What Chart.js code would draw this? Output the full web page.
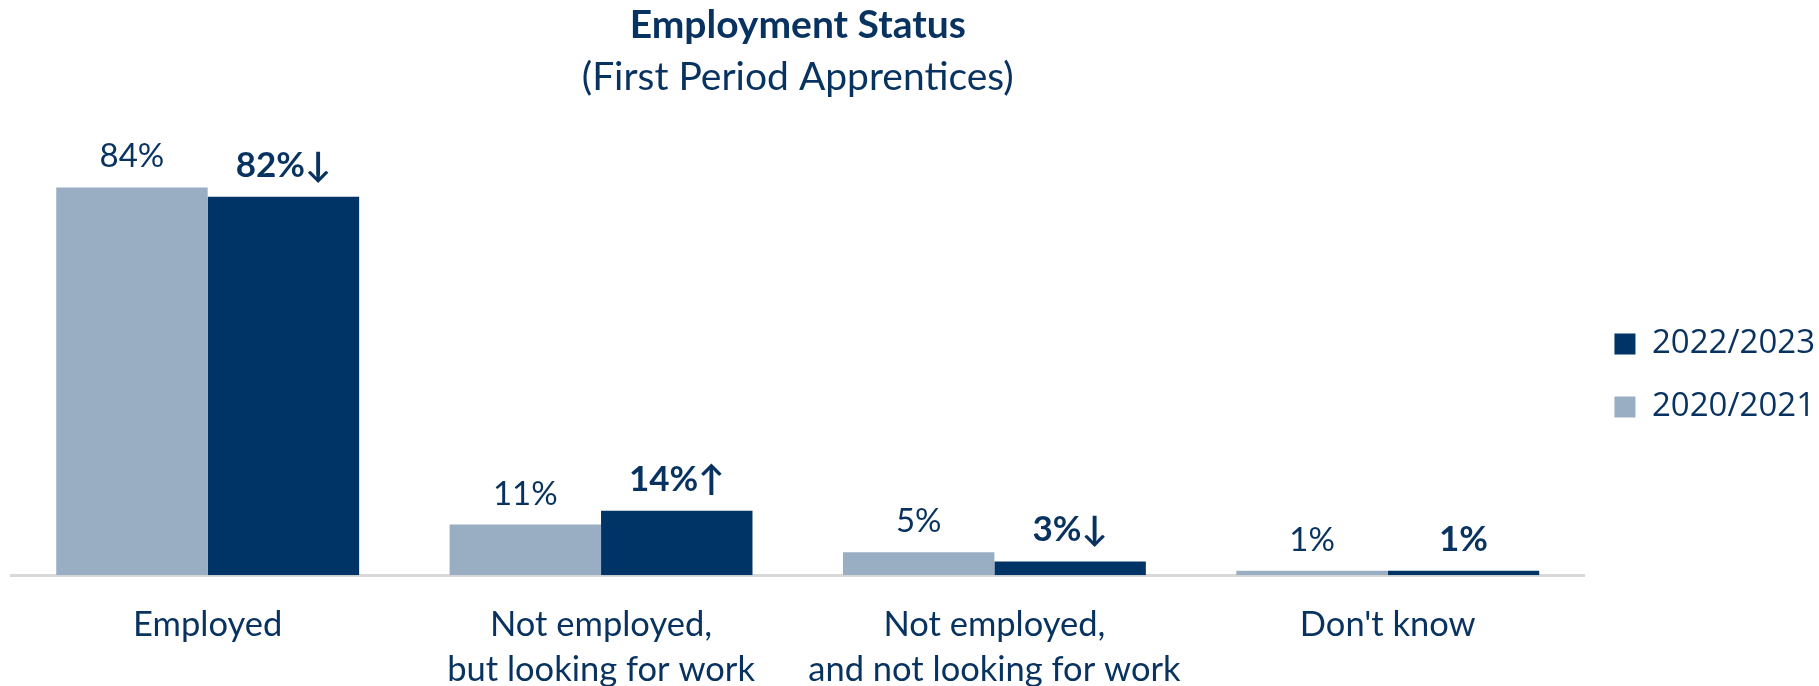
<!DOCTYPE html>
<html><head><meta charset="utf-8">
<script src="https://cdn.jsdelivr.net/npm/chart.js@4/dist/chart.umd.min.js"></script>
<style>html,body{margin:0;padding:0;background:#fff}#wrap{width:1819px;height:686px;position:relative}</style>
</head><body><div id="wrap"><canvas id="c"></canvas></div>
<script>
const categories = ['Employed', ['Not employed,', 'but looking for work'], ['Not employed,', 'and not looking for work'], "Don't know"];
const seriesNames = ['2020/2021', '2022/2023'];
const values2020 = [84, 11, 5, 1];
const values2022 = [82, 14, 3, 1];
const change2022 = ['\u2193', '\u2191', '\u2193', ''];

const TEXT = '#08325f';
const DARK = '#003466';
const LIGHT = '#9aaec3';
const FONT = 'Lato';

const barLabels = {
  id: 'barLabels',
  afterDatasetsDraw(chart) {
    const ctx = chart.ctx;
    chart.data.datasets.forEach((ds, di) => {
      const meta = chart.getDatasetMeta(di);
      meta.data.forEach((bar, i) => {
        let txt = ds.data[i] + '%';
        ctx.save();
        ctx.fillStyle = TEXT;
        ctx.textAlign = 'center';
        ctx.textBaseline = 'alphabetic';
        if (di === 1) { txt += change2022[i]; ctx.font = 'bold 35px ' + FONT; }
        else { ctx.font = '33px ' + FONT; }
        ctx.fillText(txt, bar.x, bar.y - 20);
        ctx.restore();
      });
    });
  }
};

new Chart(document.getElementById('c'), {
  type: 'bar',
  data: {
    labels: categories,
    datasets: [
      { label: seriesNames[0], data: values2020, backgroundColor: LIGHT, borderWidth: 0 },
      { label: seriesNames[1], data: values2022, backgroundColor: DARK, borderWidth: 0 }
    ]
  },
  options: {
    responsive: true,
    maintainAspectRatio: false,
    animation: false,
    layout: { padding: { left: 11, right: -6, top: 0, bottom: -33 } },
    datasets: { bar: { categoryPercentage: 0.77, barPercentage: 1.0 } },
    scales: {
      x: {
        grid: { display: false, drawTicks: false },
        border: { display: true, color: '#d9d9d9', width: 3 },
        ticks: { color: TEXT, font: { family: FONT, size: 34.5, lineHeight: 1.3 }, padding: 27, maxRotation: 0, autoSkip: false }
      },
      y: { display: false, min: 0, max: 100 }
    },
    plugins: {
      title: { display: true, text: 'Employment Status', fullSize: false, color: TEXT,
        font: { family: FONT, size: 39, weight: 'bold', lineHeight: 1.2 }, padding: { top: 2, bottom: 4 } },
      subtitle: { display: true, text: '(First Period Apprentices)', fullSize: false, color: TEXT,
        font: { family: FONT, size: 39, weight: 'normal', lineHeight: 1.2 }, padding: { top: 1, bottom: 13 } },
      legend: {
        position: 'right',
        reverse: true,
        title: { display: true, text: ' ', font: { size: 10, lineHeight: 1 }, padding: { top: 11, bottom: 11 } },
        labels: { color: TEXT, boxWidth: 21, boxHeight: 21, padding: 30, font: { family: 'Open Sans', size: 33 } }
      },
      tooltip: { enabled: false }
    }
  },
  plugins: [barLabels]
});
</script>
</body></html>
